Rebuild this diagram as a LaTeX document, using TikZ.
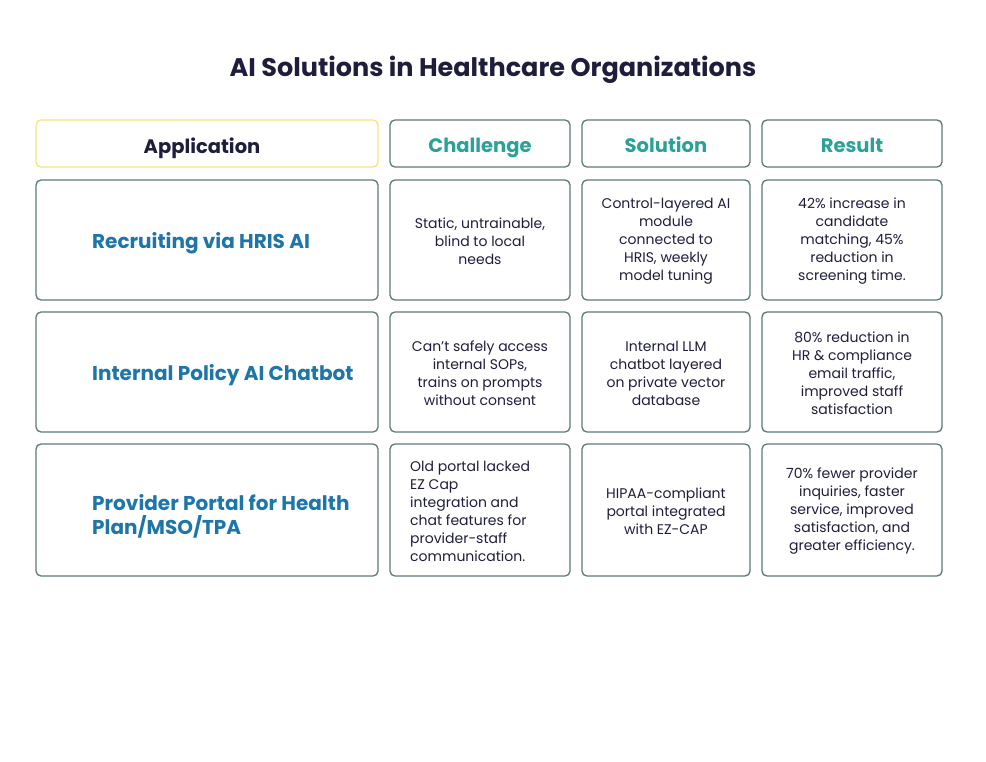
\documentclass[tikz,border=0pt]{standalone}
\usepackage{fontspec}
\setmainfont{Poppins}
\definecolor{bord}{HTML}{5E7878}
\definecolor{navy}{HTML}{1E1E3C}
\definecolor{teal}{HTML}{2BA197}
\definecolor{blu}{HTML}{1D75A9}
\definecolor{yel}{HTML}{F7E37A}
\tikzset{
 cell/.style={draw=bord,line width=1.3pt,rounded corners=5pt},
 body/.style={font=\fontsize{14}{18}\selectfont,text=navy,align=center},
 hdr/.style={font=\fontsize{19.5}{22}\selectfont\bfseries,text=teal,text height=14pt,text depth=4pt},
 lab/.style={font=\fontsize{20}{24}\selectfont\bfseries,text=blu,align=left,anchor=west,inner sep=0pt},
}
\begin{document}
\begin{tikzpicture}[x=1pt,y=-1pt]
\useasboundingbox (0,0) rectangle (986,762);
\node[font=\fontsize{25.5}{28}\selectfont\bfseries,text=navy] (title) at (493,70) {AI Solutions in Healthcare Organizations};
% header
\draw[cell,draw=yel] (36,120) rectangle (378,167);
\node[hdr,text=navy] (ha) at (202,149) {Application};
\draw[cell] (390,120) rectangle (570,167); \node[hdr] (hc) at (480,148) {Challenge};
\draw[cell] (582,120) rectangle (750,167); \node[hdr] (hs) at (666,148) {Solution};
\draw[cell] (762,120) rectangle (942,167); \node[hdr] (hr) at (852,148) {Result};
% rows
\foreach \a/\b in {180/300,312/432,444/576}{
 \draw[cell] (36,\a) rectangle (378,\b);
 \draw[cell] (390,\a) rectangle (570,\b);
 \draw[cell] (582,\a) rectangle (750,\b);
 \draw[cell] (762,\a) rectangle (942,\b);
}
\node[lab] (l1) at (92,243) {Recruiting via HRIS AI};
\node[lab] (l2) at (92,375) {Internal Policy AI Chatbot};
\node[lab] (l3) at (92,516) {Provider Portal for Health\\Plan/MSO/TPA};
\node[body] (c1) at (480,241) {Static, untrainable,\\blind to local\\needs};
\node[body] (s1) at (666,241) {Control-layered AI\\module\\connected to\\HRIS, weekly\\model tuning};
\node[body] (r1) at (852,241) {42\% increase in\\candidate\\matching, 45\%\\reduction in\\screening time.};
\node[body] (c2) at (480,373) {Can't safely access\\internal SOPs,\\trains on prompts\\without consent};
\node[body] (s2) at (666,373) {Internal LLM\\chatbot layered\\on private vector\\database};
\node[body] (r2) at (852,373) {80\% reduction in\\HR \& compliance\\email traffic,\\improved staff\\satisfaction};
\node[body,align=left,anchor=west,inner sep=0pt] (c3) at (410,511) {Old portal lacked\\EZ Cap\\integration and\\chat features for\\provider-staff\\communication.};
\node[body] (s3) at (666,511) {HIPAA-compliant\\portal integrated\\with EZ-CAP};
\node[body] (r3) at (852,511) {70\% fewer provider\\inquiries, faster\\service, improved\\satisfaction, and\\greater efficiency.};
\end{tikzpicture}
\end{document}
